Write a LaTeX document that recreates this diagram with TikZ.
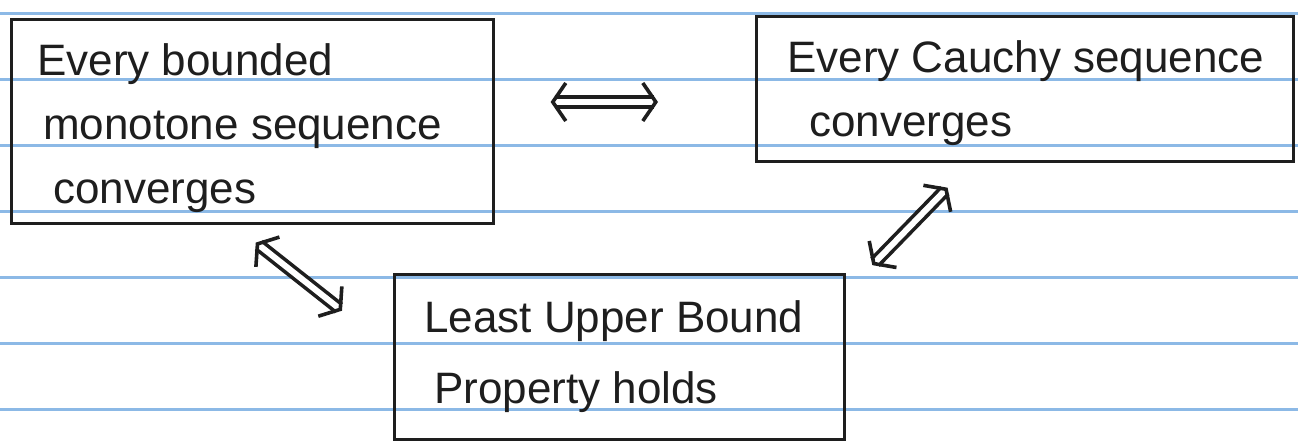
\documentclass[tikz,border=0pt]{standalone}
\usepackage{fontspec}
\setmainfont{Liberation Sans}
\usetikzlibrary{arrows.meta}
\definecolor{ruleblue}{RGB}{140,185,230}
\definecolor{ink}{RGB}{30,30,30}

\begin{document}
\begin{tikzpicture}[x=1pt,y=-1pt,
  frame/.style={draw=ink,line width=2.6pt,anchor=north west,inner sep=0pt},
  hand/.style={anchor=north west,inner sep=0pt,align=left,text=ink,font=\fontsize{44}{64}\selectfont},
  iff/.style={draw=ink,double,double distance=6pt,line width=3.6pt,{Straight Barb[length=13pt,width=38pt]}-{Straight Barb[length=13pt,width=38pt]}}]
  \useasboundingbox (0,0) rectangle (1298,440);
  % ruled paper
  \foreach \y in {13.5,79.5,...,409.5}
    \draw[ruleblue,line width=3pt] (0,\y)--(1298,\y);
  % the three boxes
  \node[frame,minimum width=482pt,minimum height=204pt] (bmono) at (10,18) {};
  \node[frame,minimum width=537pt,minimum height=145pt] (bcauchy) at (755,15) {};
  \node[frame,minimum width=450pt,minimum height=165pt] (blub) at (393,273) {};
  \node[hand] (tmono) at (37,43) {Every bounded\\ \hspace*{6pt}monotone sequence\\ \hspace*{16pt}converges};
  \node[hand] (tcauchy) at (787,40) {Every Cauchy sequence\\ \hspace*{22pt}converges};
  \node[hand,font=\fontsize{44}{71}\selectfont] (tlub) at (424,300) {Least Upper Bound\\ \hspace*{10pt}Property holds};
  % equivalences
  \draw[iff,shorten <=56pt,shorten >=97pt] (bmono.east |- 0,102) -- (bcauchy.west |- 0,102);
  \draw[iff,shorten <=29pt,shorten >=65pt] ([xshift=223pt]bmono.south west) -- ([yshift=-78pt]blub.north west);
  \draw[iff,shorten <=35pt,shorten >=11pt] ([xshift=217pt]bcauchy.south west) -- ([xshift=19pt]blub.north east);
\end{tikzpicture}
\end{document}
